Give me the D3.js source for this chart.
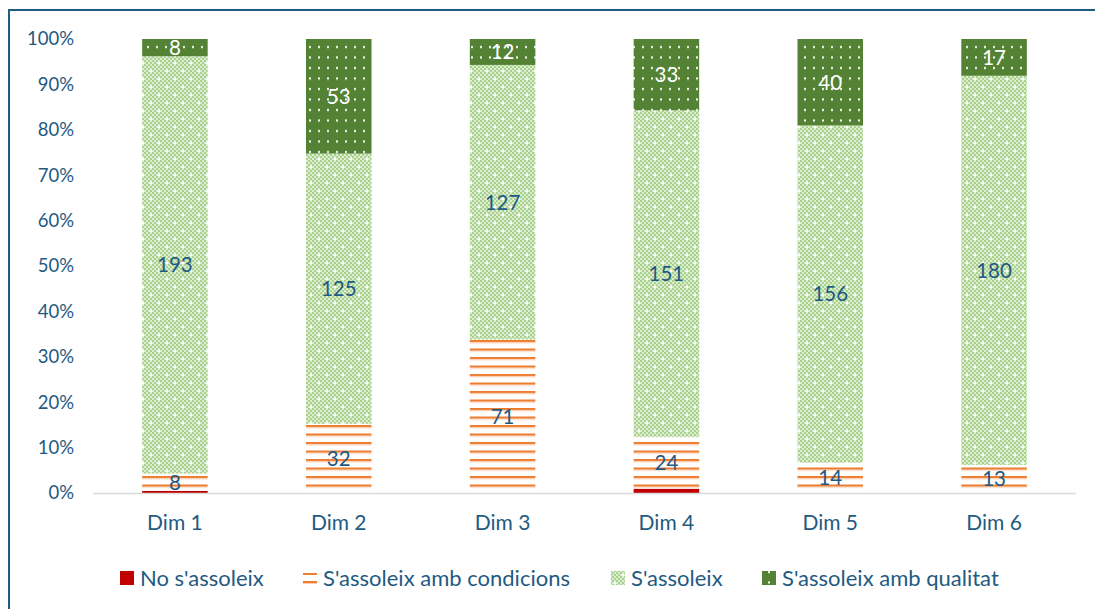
<!DOCTYPE html>
<html><head><meta charset="utf-8">
<script src="https://cdn.jsdelivr.net/npm/d3@7"></script>
<style>
html,body{margin:0;padding:0;background:#fff;}
svg{display:block;}
text{font-family:Lato,"Open Sans",sans-serif;}
</style></head>
<body><svg id="c" width="1095" height="609"></svg>
<script>
const categories = ["Dim 1","Dim 2","Dim 3","Dim 4","Dim 5","Dim 6"];
const seriesNames = ["No s'assoleix","S'assoleix amb condicions","S'assoleix","S'assoleix amb qualitat"];
const noAssoleix = [1,0,0,2,0,0];
const ambCondicions = [8,32,71,24,14,13];
const assoleix = [193,125,127,151,156,180];
const ambQualitat = [8,53,12,33,40,17];
const yTicks = [0,0.1,0.2,0.3,0.4,0.5,0.6,0.7,0.8,0.9,1.0];

const textColor = "#1F5A82";
const svg = d3.select("#c");
const defs = svg.append("defs");

// patterns
const pCond = defs.append("pattern").attr("id","pCond").attr("patternUnits","userSpaceOnUse")
  .attr("width",8).attr("height",8.5);
pCond.append("rect").attr("width",8).attr("height",8.5).attr("fill","#fff");
pCond.append("rect").attr("y",0).attr("width",8).attr("height",2.2).attr("fill","#ED7D31");
pCond.append("rect").attr("y",2.2).attr("width",8).attr("height",1).attr("fill","#F8CBAD");

const pAss = defs.append("pattern").attr("id","pAss").attr("patternUnits","userSpaceOnUse")
  .attr("width",16).attr("height",16);
pAss.append("rect").attr("width",16).attr("height",16).attr("fill","#DCEDD0");
for(let i=0;i<8;i++)for(let j=0;j<8;j++){
  if((i+j)%2===0) pAss.append("rect").attr("x",i*2).attr("y",j*2).attr("width",2).attr("height",2).attr("fill","#A9D18E");
}
pAss.append("rect").attr("x",6).attr("y",6).attr("width",2).attr("height",2).attr("fill","#fff");
pAss.append("rect").attr("x",14).attr("y",14).attr("width",2).attr("height",2).attr("fill","#fff");

const pQual = defs.append("pattern").attr("id","pQual").attr("patternUnits","userSpaceOnUse")
  .attr("width",9).attr("height",10.5);
pQual.append("rect").attr("width",9).attr("height",10.5).attr("fill","#548235");
pQual.append("rect").attr("x",3).attr("y",4).attr("width",2).attr("height",2).attr("fill","#fff");

const fills = ["#C00000","url(#pCond)","url(#pAss)","url(#pQual)"];
const labelColors = [textColor,textColor,textColor,"#fff"];

// border
svg.append("path").attr("d","M9,620 L9,10 L1100,10").attr("fill","none")
  .attr("stroke","#1F5C84").attr("stroke-width",2);

const x = d3.scaleBand().domain(categories).range([93,1076]).paddingInner(0.6).paddingOuter(0.3);
const y = d3.scaleLinear().domain([0,1]).range([493,39]);

// y ticks
svg.append("g").selectAll("text").data(yTicks).join("text")
  .attr("x",74).attr("y",d=>y(d)).attr("dy","0.35em").attr("text-anchor","end")
  .attr("font-size",18.5).attr("fill",textColor).text(d=>d3.format(".0%")(d));

// stack
const rows = categories.map((c,i)=>({cat:c, s0:noAssoleix[i], s1:ambCondicions[i], s2:assoleix[i], s3:ambQualitat[i]}));
const stack = d3.stack().keys(["s0","s1","s2","s3"]).offset(d3.stackOffsetExpand);
const series = stack(rows);

const g = svg.append("g");
series.forEach((s,si)=>{
  g.selectAll(null).data(s).join("rect")
    .attr("x",d=>x(d.data.cat)).attr("width",x.bandwidth())
    .attr("y",d=>y(d[1])).attr("height",d=>Math.max(0,y(d[0])-y(d[1])))
    .attr("fill",fills[si]);
});
// axis line
svg.append("line").attr("x1",93).attr("x2",1076).attr("y1",493.5).attr("y2",493.5)
  .attr("stroke","#D9D9D9").attr("stroke-width",1.5);

// labels
series.forEach((s,si)=>{
  if(si===0) return;
  g.selectAll(null).data(s.filter(d=>d.data[s.key]>0)).join("text")
    .attr("x",d=>x(d.data.cat)+x.bandwidth()/2)
    .attr("y",d=>(y(d[0])+y(d[1]))/2).attr("dy","0.36em")
    .attr("text-anchor","middle").attr("font-size",20.5).attr("fill",labelColors[si])
    .text(d=>d.data[s.key]);
});

// x labels
svg.append("g").selectAll("text").data(categories).join("text")
  .attr("x",d=>x(d)+x.bandwidth()/2).attr("y",523).attr("dy","0.35em")
  .attr("text-anchor","middle").attr("font-size",21).attr("fill",textColor).text(d=>d);

// legend
const legX = [120,303,611,762];
const lg = svg.append("g");
seriesNames.forEach((n,i)=>{
  const gx = legX[i];
  if(i===1){
    lg.append("rect").attr("x",gx).attr("y",573).attr("width",14).attr("height",2).attr("fill","#ED7D31");
    lg.append("rect").attr("x",gx).attr("y",581).attr("width",14).attr("height",2).attr("fill","#ED7D31");
    lg.append("rect").attr("x",gx).attr("y",583).attr("width",14).attr("height",1).attr("fill","#F8CBAD");
  } else {
    lg.append("rect").attr("x",gx).attr("y",571).attr("width",14).attr("height",14).attr("fill",fills[i]);
  }
  lg.append("text").attr("x",gx+20).attr("y",578).attr("dy","0.35em")
    .attr("font-size",22).attr("fill",textColor).text(n);
});
</script></body></html>
